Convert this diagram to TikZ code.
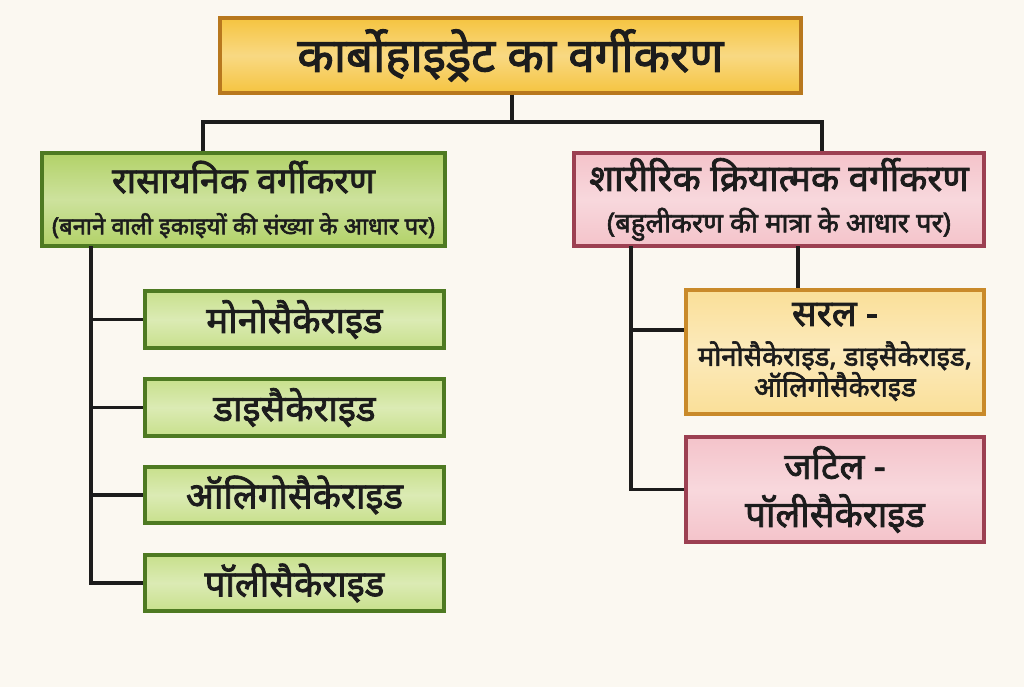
\documentclass[tikz,border=0pt]{standalone}
\usepackage{fontspec}
\newfontfamily\dev[Script=Devanagari, FakeBold=2.2]{Noto Sans}
\definecolor{bg}{HTML}{FBF8F1}
\definecolor{titlefill}{HTML}{F5C440}
\definecolor{titledraw}{HTML}{B8781E}
\definecolor{greenhead}{HTML}{B2D268}
\definecolor{greenchild}{HTML}{C8E08C}
\definecolor{greendraw}{HTML}{4E7A22}
\definecolor{pinkfill}{HTML}{F4C3CA}
\definecolor{pinkdraw}{HTML}{9C4052}
\definecolor{yelfill}{HTML}{FADF98}
\definecolor{yeldraw}{HTML}{C98A2A}
\definecolor{ink}{HTML}{1C1C1C}
\tikzset{
  px/.style={x=0.75pt,y=-0.75pt},
  bx/.style 2 args={minimum width=#1*0.75pt, minimum height=#2*0.75pt},
  box/.style={rectangle, line width=2.4pt, align=center, inner sep=0pt, text=ink, font=\dev},
  shade3/.style={top color=#1, bottom color=#1, middle color=#1!65!white},
  titlebox/.style={box, shade3=titlefill, draw=titledraw},
  greenhd/.style={box, shade3=greenhead, draw=greendraw},
  greench/.style={box, shade3=greenchild, draw=greendraw},
  pinkbox/.style={box, shade3=pinkfill, draw=pinkdraw},
  yelbox/.style={box, shade3=yelfill, draw=yeldraw},
  conn/.style={line width=2.6pt, draw=ink},
  chtext/.style={font=\dev\fontsize{27.5}{30}\selectfont}
}
\begin{document}
\begin{tikzpicture}[px]
\fill[bg] (0,0) rectangle (1024,687);
\useasboundingbox (0,0) rectangle (1024,687);
% title
\node[titlebox, bx={581}{75}, font=\dev\fontsize{35.5}{40}\selectfont] (title) at (510.5,55.5) {कार्बोहाइड्रेट का वर्गीकरण};
% headers
\node[greenhd, bx={403}{93}, font=\dev\fontsize{10}{31}\selectfont] (lh) at (243.5,199.5) {{\fontsize{27}{31}\selectfont रासायनिक वर्गीकरण}\\{\fontsize{17.8}{31}\selectfont (बनाने वाली इकाइयों की संख्या के आधार पर)}};
\node[pinkbox, bx={410}{93}, font=\dev\fontsize{10}{31}\selectfont] (rh) at (779,199.5) {{\fontsize{27.5}{31}\selectfont शारीरिक क्रियात्मक वर्गीकरण}\\{\fontsize{20.5}{31}\selectfont (बहुलीकरण की मात्रा के आधार पर)}};
% left children
\node[greench, bx={299}{57}, chtext] (c1) at (294.5,319.5) {मोनोसैकेराइड};
\node[greench, bx={299}{57}, chtext] (c2) at (294.5,407.5) {डाइसैकेराइड};
\node[greench, bx={299}{56}, chtext] (c3) at (294.5,495) {ऑलिगोसैकेराइड};
\node[greench, bx={299}{56}, chtext] (c4) at (294.5,583) {पॉलीसैकेराइड};
% right children
\node[yelbox, bx={298}{124}, font=\dev\fontsize{10}{23}\selectfont] (s) at (835,352) {{\fontsize{27.5}{23}\selectfont सरल -}\\[7pt]{\fontsize{20.5}{23}\selectfont मोनोसैकेराइड, डाइसैकेराइड,}\\{\fontsize{20.5}{23}\selectfont ऑलिगोसैकेराइड}};
\node[pinkbox, bx={298}{105}, font=\dev\fontsize{27.5}{36}\selectfont] (cx) at (835,489.5) {जटिल -\\पॉलीसैकेराइड};
% connectors
\coordinate (j) at (512,122);
\draw[conn] (title.south -| j) -- (j);
\draw[conn] (lh.north -| 203,0) |- (j) -| (rh.north -| 822,0);
\coordinate (lt) at (91,246);
\draw[conn] (lt) |- (c4.west);
\draw[conn] (lt |- c1.west) -- (c1.west);
\draw[conn] (lt |- c2.west) -- (c2.west);
\draw[conn] (lt |- c3.west) -- (c3.west);
\coordinate (rt) at (631,246);
\draw[conn] (rt) |- (cx.west);
\draw[conn] (rt |- 0,330) -- ([yshift=16.5pt]s.west);
\coordinate (rv) at (798,246);
\draw[conn] (rv) -- (rv |- s.north);
\end{tikzpicture}
\end{document}
